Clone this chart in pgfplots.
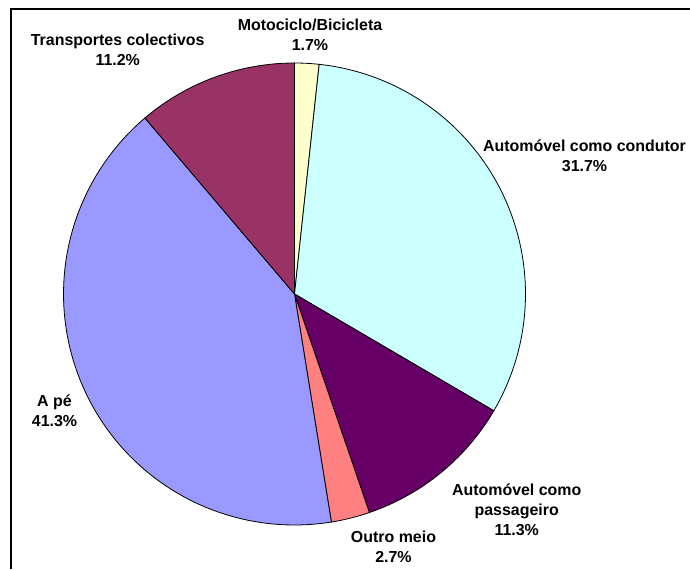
\documentclass[border=0pt]{standalone}
\usepackage{pgfplots}
\pgfplotsset{compat=1.18}
\usepackage{fontspec}
\setmainfont{Liberation Sans}
\definecolor{cMoto}{HTML}{FFFFCC}
\definecolor{cCond}{HTML}{CCFFFF}
\definecolor{cPass}{HTML}{660066}
\definecolor{cOutro}{HTML}{FF8080}
\definecolor{cPe}{HTML}{9999FF}
\definecolor{cTrans}{HTML}{993366}
% shares (%), clockwise from 12 o'clock
\def\vMoto{1.7}
\def\vCond{31.7}
\def\vPass{11.3}
\def\vOutro{2.7}
\def\vPe{41.3}
\def\vTrans{11.2}
\pgfmathsetmacro{\total}{\vMoto+\vCond+\vPass+\vOutro+\vPe+\vTrans}
\pgfmathsetmacro{\aA}{90}
\pgfmathsetmacro{\aB}{\aA-360*\vMoto/\total}
\pgfmathsetmacro{\aC}{\aB-360*\vCond/\total}
\pgfmathsetmacro{\aD}{\aC-360*\vPass/\total}
\pgfmathsetmacro{\aE}{\aD-360*\vOutro/\total}
\pgfmathsetmacro{\aF}{\aE-360*\vPe/\total}
\pgfmathsetmacro{\aG}{\aF-360*\vTrans/\total}
\def\cx{294.5}
\def\cy{294}
\def\R{231}
\newcommand{\slice}[3]{%
  \addplot[fill=#3, draw=black, line width=0.8bp, domain=#2:#1, samples=80, variable=\t]
    ({\cx+\R*cos(\t)},{\cy-\R*sin(\t)}) -- (axis cs:\cx,\cy) -- cycle;
}
\tikzset{lbl/.style={font=\fontsize{16}{20}\selectfont\bfseries, align=center, inner sep=0pt}}
\begin{document}
\begin{tikzpicture}
\begin{axis}[
  width=690bp, height=569bp, scale only axis,
  xmin=0, xmax=690, ymin=0, ymax=569, y dir=reverse,
  hide axis, clip=false,
]
\slice{\aA}{\aB}{cMoto}
\slice{\aB}{\aC}{cCond}
\slice{\aC}{\aD}{cPass}
\slice{\aD}{\aE}{cOutro}
\slice{\aE}{\aF}{cPe}
\slice{\aF}{\aG}{cTrans}
\draw[line width=2bp] (axis cs:11,569) -- (axis cs:11,9) -- (axis cs:690,9);
\node[lbl] at (axis cs:310,34.5) {Motociclo/Bicicleta\\1.7\%};
\node[lbl] at (axis cs:117.7,50) {Transportes colectivos\\11.2\%};
\node[lbl] at (axis cs:584.5,155.5) {Automóvel como condutor\\31.7\%};
\node[lbl] at (axis cs:516.7,510) {Automóvel como\\passageiro\\11.3\%};
\node[lbl] at (axis cs:393.5,546.5) {Outro meio\\2.7\%};
\node[lbl] at (axis cs:54.5,410.5) {A pé\\41.3\%};
\end{axis}
\pgfresetboundingbox
\path[use as bounding box] (current axis.south west) rectangle (current axis.north east);
\end{tikzpicture}
\end{document}
